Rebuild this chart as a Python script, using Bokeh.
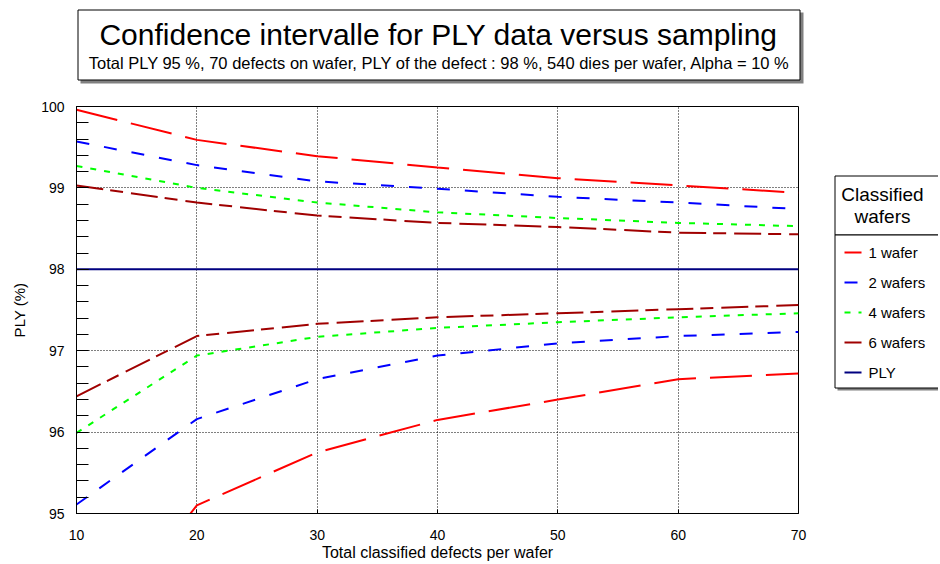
from bokeh.plotting import figure
from bokeh.layouts import column, row
from bokeh.models import Range1d, FixedTicker
from bokeh.core.properties import value
from bokeh.embed import file_html
from bokeh.resources import INLINE

# ---------------- data ----------------
defects = [10, 20, 30, 40, 50, 60, 70]
x_ticks = [10, 20, 30, 40, 50, 60, 70]
y_ticks = [95, 96, 97, 98, 99, 100]

w1_upper = [99.96, 99.59, 99.39, 99.25, 99.12, 99.03, 98.94]
w1_lower = [93.20, 95.10, 95.75, 96.15, 96.40, 96.65, 96.72]
w2_upper = [99.57, 99.28, 99.08, 98.99, 98.89, 98.82, 98.74]
w2_lower = [95.11, 96.16, 96.65, 96.94, 97.09, 97.18, 97.23]
w4_upper = [99.27, 99.00, 98.82, 98.70, 98.63, 98.57, 98.53]
w4_lower = [95.99, 96.94, 97.17, 97.28, 97.35, 97.41, 97.46]
w6_upper = [99.03, 98.82, 98.66, 98.57, 98.52, 98.45, 98.43]
w6_lower = [96.44, 97.18, 97.33, 97.41, 97.46, 97.51, 97.56]
ply_values = [98, 98, 98, 98, 98, 98, 98]

series_labels = ["1 wafer", "2 wafers", "4 wafers", "6 wafers", "PLY"]
title_text = "Confidence intervalle for PLY data versus sampling"
subtitle_text = ("Total PLY 95 %, 70 defects on wafer, PLY of the defect : 98 %, "
                 "540 dies per wafer, Alpha = 10 %")
x_title = "Total classified defects per wafer"
y_title = "PLY (%)"
legend_title = ["Classified", "wafers"]

# ---------------- styling ----------------
FONT = "Liberation Sans"
RED, BLUE, GREEN, DRED, NAVY = "#ff0000", "#0000ff", "#00ff00", "#a00000", "#000080"
DASH = {"1": "42 14", "2": "13 15", "4": "6 8", "6": "27 7 13 8"}
TOTAL_W = 938
TITLE_H = 90
PLOT_W, PLOT_H = 826, 473
LEG_W = TOTAL_W - PLOT_W
FRAME_TOP, FRAME_BOTTOM = 106, 513          # page y of the plot frame
B_TOP = FRAME_TOP - TITLE_H
B_BOTTOM = TITLE_H + PLOT_H - FRAME_BOTTOM


def text(f, s, x, y, size, align="center"):
    f.text(x=[x], y=[y], text=[s], text_font=value(FONT), text_font_size=value(size),
           text_color="black", text_align=align, text_baseline="middle")


def plain(f):
    f.grid.visible = False
    f.outline_line_color = None
    f.background_fill_color = "white"
    f.border_fill_color = "white"


# ---------------- title panel ----------------
tf = figure(width=TOTAL_W, height=TITLE_H, x_range=Range1d(0, TOTAL_W),
            y_range=Range1d(TITLE_H, 0), output_backend="svg", toolbar_location=None,
            x_axis_location=None, y_axis_location=None, min_border=0,
            min_border_left=0, min_border_right=0, min_border_top=0, min_border_bottom=0)
plain(tf)
tf.quad(left=[80], right=[803], top=[12], bottom=[83], fill_color="#808080", line_color=None)
tf.quad(left=[77.5], right=[799.5], top=[9.5], bottom=[79.5], fill_color="white",
        line_color="black", line_width=1)
text(tf, title_text, 438, 34, "30px")
text(tf, subtitle_text, 439, 62, "16.5px")

# ---------------- main plot ----------------
p = figure(width=PLOT_W, height=PLOT_H, x_range=Range1d(10, 70), y_range=Range1d(95, 100),
           output_backend="svg", toolbar_location=None,
           min_border_left=76, min_border_right=PLOT_W - 798, min_border_top=B_TOP,
           min_border_bottom=B_BOTTOM)
p.background_fill_color = "white"
p.border_fill_color = "white"
p.outline_line_color = "black"
p.outline_line_width = 1
p.outline_line_alpha = 1

p.xaxis.ticker = FixedTicker(ticks=x_ticks)
p.xaxis.major_tick_in = 4
p.xaxis.major_tick_out = 0
p.xaxis.minor_tick_in = 0
p.xaxis.minor_tick_out = 0
p.xaxis.major_label_standoff = 16
p.xaxis.axis_label = x_title
p.xaxis.axis_label_standoff = 1

y_minor = [round(95 + 0.2 * i, 1) for i in range(26)]
p.yaxis.ticker = FixedTicker(ticks=y_ticks, minor_ticks=y_minor)
p.yaxis.major_tick_in = 12
p.yaxis.major_tick_out = 0
p.yaxis.minor_tick_in = 12
p.yaxis.minor_tick_out = 0
p.yaxis.major_label_standoff = 12
p.yaxis.axis_label = y_title
p.yaxis.axis_label_standoff = 10

for ax in (p.xaxis[0], p.yaxis[0]):
    ax.major_label_text_font = FONT
    ax.major_label_text_font_size = "14px"
    ax.major_label_text_color = "black"
    ax.axis_line_color = "black"
    ax.major_tick_line_color = "black"
    ax.minor_tick_line_color = "black"
    ax.axis_label_text_font = FONT
    ax.axis_label_text_font_style = "normal"
    ax.axis_label_text_color = "black"
p.xaxis.axis_label_text_font_size = "16px"
p.yaxis.axis_label_text_font_size = "15px"

for g in (p.xgrid, p.ygrid):
    g.grid_line_color = "black"
    g.grid_line_dash = "1 2"
    g.grid_line_width = 1
p.xgrid.ticker = FixedTicker(ticks=x_ticks)

p.line(defects, w1_upper, line_color=RED, line_width=2, line_dash=DASH["1"])
p.line(defects, w1_lower, line_color=RED, line_width=2, line_dash=DASH["1"])
p.line(defects, w2_upper, line_color=BLUE, line_width=2, line_dash=DASH["2"])
p.line(defects, w2_lower, line_color=BLUE, line_width=2, line_dash=DASH["2"])
p.line(defects, w4_upper, line_color=GREEN, line_width=2, line_dash=DASH["4"])
p.line(defects, w4_lower, line_color=GREEN, line_width=2, line_dash=DASH["4"])
p.line(defects, w6_upper, line_color=DRED, line_width=2, line_dash=DASH["6"])
p.line(defects, w6_lower, line_color=DRED, line_width=2, line_dash=DASH["6"])
p.line(defects, ply_values, line_color=NAVY, line_width=2)

# ---------------- legend panel (frame aligned with plot frame, page coords) ----
lf = figure(width=LEG_W, height=PLOT_H, x_range=Range1d(PLOT_W, TOTAL_W),
            y_range=Range1d(FRAME_BOTTOM, FRAME_TOP), output_backend="svg",
            toolbar_location=None, x_axis_location=None, y_axis_location=None,
            min_border=0, min_border_left=0, min_border_right=0,
            min_border_top=B_TOP, min_border_bottom=B_BOTTOM)
plain(lf)
lf.quad(left=[837], right=[1000], top=[178], bottom=[390],
        fill_color="#808080", line_color=None)
lf.quad(left=[834.5], right=[1000], top=[175.5], bottom=[234.5],
        fill_color="white", line_color="black", line_width=1)
lf.quad(left=[834.5], right=[1000], top=[234.5], bottom=[387.5],
        fill_color="white", line_color="black", line_width=1)
text(lf, legend_title[0], 882, 194, "19px")
text(lf, legend_title[1], 882, 216, "19px")

item_styles = [(RED, DASH["1"]), (BLUE, DASH["2"]), (GREEN, DASH["4"]),
               (DRED, DASH["6"]), (NAVY, "solid")]
row_y = [252, 282, 312, 342, 372]
for lab, (col, dash), yy in zip(series_labels, item_styles, row_y):
    lf.line(x=[844, 861], y=[yy, yy], line_color=col, line_width=2, line_dash=dash)
    text(lf, lab, 868, yy, "15px", align="left")

layout = column(tf, row(p, lf, spacing=0), spacing=0)
open("out.html", "w").write(file_html(layout, INLINE))
